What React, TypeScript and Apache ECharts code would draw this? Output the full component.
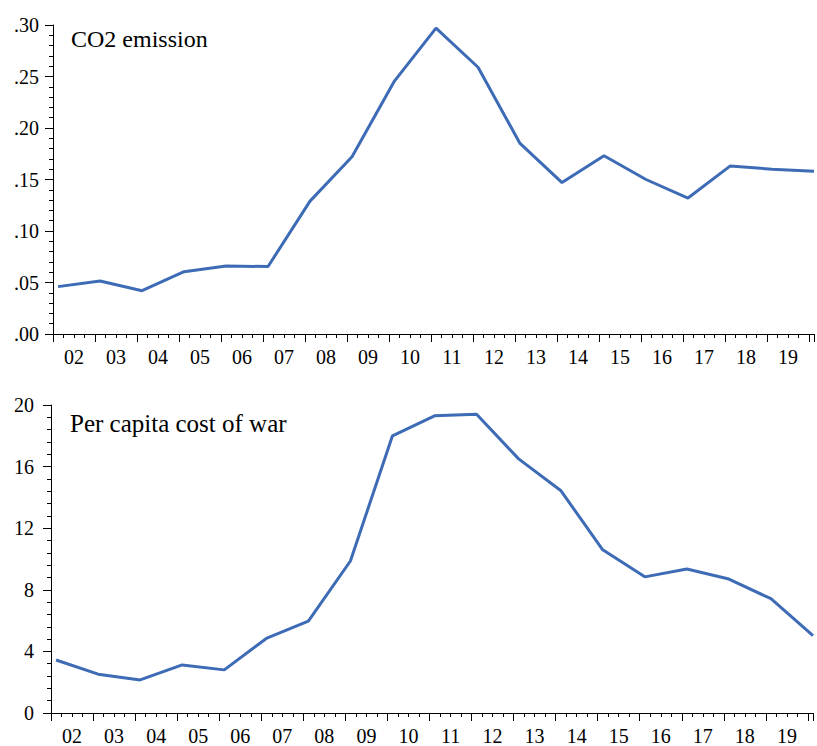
import React, { useEffect, useRef } from "react";
import * as echarts from "echarts";

const years: string[] = ["02","03","04","05","06","07","08","09","10","11","12","13","14","15","16","17","18","19"];
const co2Values: number[] = [0.046,0.0515,0.042,0.0605,0.066,0.0655,0.129,0.172,0.245,0.297,0.259,0.185,0.147,0.173,0.150,0.132,0.163,0.160,0.158];
const warCostValues: number[] = [3.44,2.52,2.15,3.12,2.80,4.84,5.96,9.87,18.0,19.3,19.4,16.5,14.45,10.6,8.84,9.35,8.7,7.42,5.03];
const co2Ticks = { min: 0, max: 0.3, interval: 0.05 };
const warTicks = { min: 0, max: 20, interval: 4 };
const titles: string[] = ["CO2 emission", "Per capita cost of war"];

const OFFSET = 0.12;
const XMAX = 18.12;
const FONT = "Liberation Serif";
const LINE_COLOR = "#3d6bb5";

export default function App() {
  const ref = useRef<HTMLDivElement>(null);
  useEffect(() => {
    if (!ref.current) return;
    const chart = echarts.init(ref.current, undefined, { renderer: "svg" });
    const toPts = (vals: number[]) => vals.map((v, i) => [i + OFFSET, v]);
    const tickAxis = (gridIndex: number) => ({
      type: "value" as const,
      gridIndex,
      position: "bottom" as const,
      min: 0,
      max: XMAX,
      interval: 1,
      axisLine: { show: true, onZero: false, lineStyle: { color: "#000", width: 1 } },
      axisTick: { show: true, length: 8, lineStyle: { color: "#000", width: 1 } },
      minorTick: { show: true, splitNumber: 4, length: 4, lineStyle: { color: "#000", width: 1 } },
      axisLabel: { show: false },
      splitLine: { show: false },
    });
    const labelAxis = (gridIndex: number) => ({
      type: "value" as const,
      gridIndex,
      position: "bottom" as const,
      min: 0,
      max: XMAX,
      interval: 0.5,
      axisLine: { show: false, onZero: false },
      axisTick: { show: false },
      splitLine: { show: false },
      axisLabel: {
        show: true,
        margin: 13,
        fontSize: 20,
        fontFamily: FONT,
        color: "#000",
        showMinLabel: true,
        showMaxLabel: true,
        formatter: (v: number) => {
          const f = v - Math.floor(v);
          if (Math.abs(f - 0.5) > 1e-6) return "";
          const idx = Math.floor(v);
          return years[idx] ?? "";
        },
      },
    });
    const yAxisCommon = {
      type: "value" as const,
      axisLine: { show: true, lineStyle: { color: "#000", width: 1 } },
      axisTick: { show: true, length: 8, lineStyle: { color: "#000", width: 1 } },
      minorTick: { show: true, splitNumber: 5, length: 4, lineStyle: { color: "#000", width: 1 } },
      splitLine: { show: false },
    };
    chart.setOption({
      animation: false,
      grid: [
        { left: 53, top: 25, right: 0, height: 309, containLabel: false },
        { left: 51, top: 405, width: 762, height: 310, containLabel: false },
      ],
      xAxis: [tickAxis(0), labelAxis(0), tickAxis(1), labelAxis(1)],
      yAxis: [
        {
          ...yAxisCommon,
          gridIndex: 0,
          min: co2Ticks.min,
          max: co2Ticks.max,
          interval: co2Ticks.interval,
          axisLabel: {
            margin: 14,
            fontSize: 20,
            fontFamily: FONT,
            color: "#000",
            formatter: (v: number) => v.toFixed(2).replace(/^0/, ""),
          },
        },
        {
          ...yAxisCommon,
          gridIndex: 1,
          min: warTicks.min,
          max: warTicks.max,
          interval: warTicks.interval,
          axisLabel: {
            margin: 17,
            fontSize: 20,
            fontFamily: FONT,
            color: "#000",
          },
        },
      ],
      series: [
        {
          type: "line",
          xAxisIndex: 0,
          yAxisIndex: 0,
          data: toPts(co2Values),
          showSymbol: false,
          symbol: "none",
          clip: false,
          lineStyle: { color: LINE_COLOR, width: 3 },
        },
        {
          type: "line",
          xAxisIndex: 2,
          yAxisIndex: 1,
          data: toPts(warCostValues),
          showSymbol: false,
          symbol: "none",
          clip: false,
          lineStyle: { color: LINE_COLOR, width: 3 },
        },
      ],
      graphic: [
        {
          type: "text",
          x: 71,
          y: 39,
          style: { text: titles[0], fontSize: 24, fontFamily: FONT, fill: "#000", verticalAlign: "middle" },
        },
        {
          type: "text",
          x: 70,
          y: 423,
          style: { text: titles[1], fontSize: 25, fontFamily: FONT, fill: "#000", verticalAlign: "middle" },
        },
      ],
    });
    return () => chart.dispose();
  }, []);
  return (
    <div
      ref={ref}
      style={{ position: "fixed", left: 0, top: 0, width: 817, height: 746, background: "#fff" }}
    />
  );
}
